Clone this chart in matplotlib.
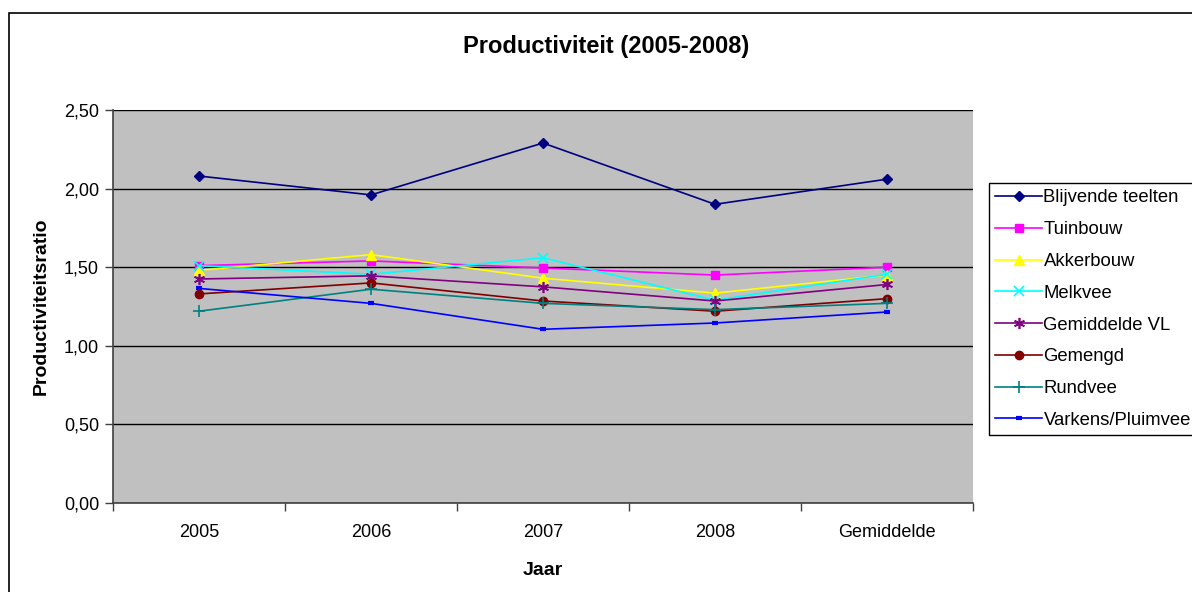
import numpy as np
import matplotlib.pyplot as plt
from matplotlib.patches import Rectangle

plt.rcParams['font.family'] = ['Liberation Sans', 'DejaVu Sans']

# Data
jaren = ["2005", "2006", "2007", "2008", "Gemiddelde"]
reeksen = ["Blijvende teelten", "Tuinbouw", "Akkerbouw", "Melkvee",
           "Gemiddelde VL", "Gemengd", "Rundvee", "Varkens/Pluimvee"]
blijvende_teelten = [2.08, 1.96, 2.29, 1.90, 2.06]
tuinbouw = [1.51, 1.54, 1.495, 1.45, 1.50]
akkerbouw = [1.48, 1.58, 1.43, 1.335, 1.45]
melkvee = [1.51, 1.455, 1.56, 1.29, 1.455]
gemiddelde_vl = [1.425, 1.445, 1.375, 1.285, 1.39]
gemengd = [1.33, 1.40, 1.285, 1.22, 1.30]
rundvee = [1.22, 1.36, 1.27, 1.23, 1.27]
varkens_pluimvee = [1.365, 1.27, 1.105, 1.145, 1.215]

waarden = [blijvende_teelten, tuinbouw, akkerbouw, melkvee,
           gemiddelde_vl, gemengd, rundvee, varkens_pluimvee]
kleuren = ["#000080", "#FF00FF", "#FFFF00", "#00FFFF",
           "#800080", "#800000", "#008080", "#0000FF"]
markers = ["D", "s", "^", "x", (6, 2, 0), "o", "+", "_"]
msizes = [5, 6, 7, 7, 8, 6, 8, 5]
mews = [1, 1, 1, 1.2, 1.2, 1, 1.2, 3]

fig = plt.figure(figsize=(11.92, 5.92), dpi=100)
# buitenrand van de grafiek
fig.patches.append(Rectangle((9 / 1192, -0.1), 1.2, 1 - 13 / 592 + 0.1,
                             transform=fig.transFigure, fill=False,
                             edgecolor="black", linewidth=1.2))

ax = fig.add_axes([113 / 1192, 1 - 503 / 592, 860 / 1192, 393 / 592])
ax.set_facecolor("#C0C0C0")

x = np.arange(len(jaren))
for naam, y, c, m, ms, mew in zip(reeksen, waarden, kleuren, markers, msizes, mews):
    ax.plot(x, y, color=c, marker=m, markersize=ms, markeredgewidth=mew,
            markerfacecolor=c, markeredgecolor=c, linewidth=1.2, label=naam)

ax.set_xlim(-0.5, len(jaren) - 0.5)
ax.set_ylim(0, 2.5)
ax.set_yticks(np.arange(0, 2.51, 0.5))
ax.set_yticklabels(["{:.2f}".format(v).replace(".", ",") for v in np.arange(0, 2.51, 0.5)],
                   fontsize=13)
ax.set_xticks(np.arange(-0.5, len(jaren), 1))
ax.set_xticklabels([])
ax.set_xticks(x, minor=True)
ax.set_xticklabels(jaren, minor=True, fontsize=13)
ax.tick_params(axis="x", which="minor", length=0, pad=15)
ax.tick_params(axis="both", which="major", length=6, color="#404040", width=1)
ax.tick_params(axis="y", pad=4)
ax.grid(axis="y", color="black", linewidth=1)
ax.set_axisbelow(True)
for s in ["top", "right"]:
    ax.spines[s].set_visible(False)
for s in ["left", "bottom"]:
    ax.spines[s].set_color("#404040")
    ax.spines[s].set_linewidth(1.2)

ax.set_xlabel("Jaar", fontsize=14, fontweight="bold", labelpad=15)
ax.set_ylabel("Productiviteitsratio", fontsize=14, fontweight="bold", labelpad=10)
fig.text(606 / 1192, 1 - 47 / 592, "Productiviteit (2005-2008)", fontsize=17,
         fontweight="bold", ha="center", va="center")

leg = ax.legend(loc="upper left", bbox_to_anchor=(989 / 1192, 1 - 183 / 592),
                bbox_transform=fig.transFigure, fontsize=13.3, frameon=True,
                fancybox=False, edgecolor="black", framealpha=1,
                handlelength=2.5, labelspacing=0.8, borderpad=0.35,
                handletextpad=0.1, borderaxespad=0)
leg.get_frame().set_linewidth(1)

fig.savefig("out.png", dpi=100)
